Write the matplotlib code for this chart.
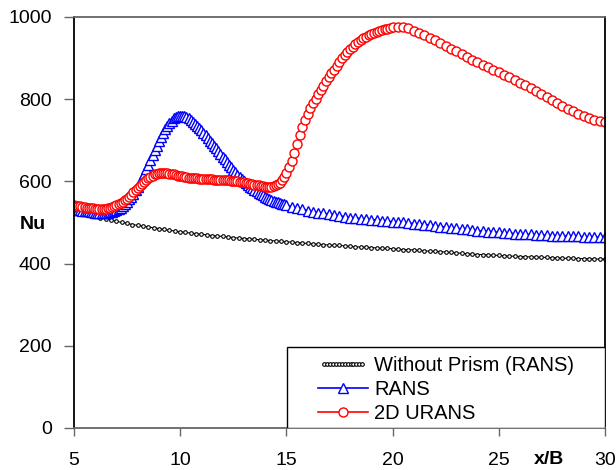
import numpy as np
import matplotlib
matplotlib.use("Agg")
import matplotlib.pyplot as plt
from matplotlib.legend_handler import HandlerLine2D
from matplotlib.patches import Rectangle

plt.rcParams["font.family"] = ["Liberation Sans", "DejaVu Sans"]

# =====================================
# DATA
# =====================================

# grid is finer near the prism, coarser downstream
x_black = np.arange(5.0, 30.01, 0.25)
x_blue = np.concatenate([np.linspace(5, 15, 101), np.linspace(15.25, 30, 60)])
x_red = np.concatenate([np.linspace(5, 15, 101), np.linspace(15.125, 20, 40),
                        np.linspace(20.25, 30, 40)])

nu_no_prism = [
    527, 524, 521, 518, 515, 512, 509, 506, 503, 500,
    498, 495, 493, 491, 489, 487, 485, 483, 481, 479,
    477, 476, 474, 473, 471, 470, 468, 467, 466, 465,
    463, 462, 461, 460, 459, 458, 457, 456, 455, 454,
    453, 452, 451, 450, 449, 448, 447, 446, 445, 444,
    444, 443, 442, 441, 440, 440, 439, 438, 437, 437,
    436, 435, 434, 434, 433, 432, 431, 430, 430, 429,
    428, 427, 426, 425, 424, 423, 422, 422, 421, 420,
    420, 419, 418, 418, 417, 417, 416, 416, 415, 415,
    414, 414, 413, 413, 413, 412, 412, 412, 411, 411,
    411,
]

nu_rans = [
    # 5.0 - 15.0, step 0.1
    532, 531, 530, 530, 529, 528, 527, 527, 526, 525,
    524, 524, 523, 523, 523, 523, 524, 525, 526, 528,
    530, 533, 536, 540, 545, 550, 556, 563, 570, 578,
    587, 597, 607, 618, 629, 640, 652, 664, 676, 687,
    698, 708, 718, 727, 735, 742, 748, 753, 757, 759,
    760, 760, 759, 756, 753, 750, 745, 740, 735, 730,
    724, 718, 712, 706, 699, 693, 686, 680, 673, 667,
    660, 654, 647, 641, 634, 628, 622, 616, 610, 605,
    600, 595, 591, 587, 583, 579, 576, 572, 569, 566,
    563, 560, 558, 555, 553, 551, 549, 547, 545, 544,
    542,
    # 15.25 - 30.0, step 0.25
    538, 535, 532, 529, 526, 524, 522, 520, 518, 516,
    514, 512, 511, 509, 508, 507, 506, 504, 503, 502,
    501, 500, 499, 497, 496, 495, 494, 492, 490, 489,
    487, 486, 484, 483, 481, 480, 479, 478, 477, 476,
    475, 474, 473, 472, 471, 471, 470, 469, 469, 468,
    468, 467, 467, 466, 466, 465, 465, 465, 464, 464,
]

nu_urans = [
    # 5.0 - 15.0, step 0.1
    542, 541, 540, 539, 538, 537, 536, 535, 534, 534,
    533, 532, 532, 532, 532, 533, 534, 535, 537, 539,
    542, 544, 547, 550, 554, 558, 563, 568, 573, 578,
    584, 589, 594, 599, 604, 608, 611, 614, 617, 619,
    620, 621, 621, 621, 620, 619, 618, 617, 615, 614,
    613, 612, 611, 610, 609, 609, 608, 607, 607, 606,
    606, 606, 605, 605, 605, 605, 604, 604, 604, 604,
    604, 603, 603, 603, 602, 602, 601, 600, 599, 598,
    598, 597, 595, 594, 593, 592, 591, 590, 589, 588,
    587, 587, 587, 587, 588, 590, 593, 597, 603, 611,
    620,
    # 15.125 - 20.0, step 0.125
    634, 650, 670, 690, 712, 732, 750, 765,
    778, 790, 801, 812, 823, 833, 843, 853,
    863, 872, 881, 890, 899, 907, 914, 921,
    928, 934, 939, 944, 948, 952, 956, 959,
    962, 964, 966, 968, 970, 971, 973, 975,
    # 20.25 - 30.0, step 0.25
    976, 975, 972, 967, 961, 955, 949, 943, 937, 930,
    923, 916, 909, 902, 896, 890, 884, 878, 872, 866,
    860, 853, 847, 840, 834, 826, 819, 812, 805, 798,
    791, 784, 777, 771, 765, 759, 754, 750, 746, 744,
]

labels = ["Without Prism (RANS)", "RANS", "2D URANS"]

# =====================================
# FIGURE
# =====================================

fig = plt.figure(figsize=(6.16, 4.70), dpi=100)
ax = fig.add_axes([0.120, 0.0894, 0.862, 0.8745])

l_black, = ax.plot(x_black, nu_no_prism, color="black", linewidth=0.8,
                   marker="o", markersize=2.6, markerfacecolor="white",
                   markeredgewidth=0.8, label=labels[0])
l_blue, = ax.plot(x_blue, nu_rans, color="blue", linewidth=1.2,
                  marker="^", markersize=7.5, markerfacecolor="white",
                  markeredgewidth=1.0, label=labels[1])
l_red, = ax.plot(x_red, nu_urans, color="red", linewidth=1.2,
                 marker="o", markersize=6.5, markerfacecolor="white",
                 markeredgewidth=1.0, label=labels[2])

ax.set_xlim(5, 30)
ax.set_ylim(0, 1000)
ax.set_xticks([5, 10, 15, 20, 25, 30])
ax.set_yticks([0, 200, 400, 600, 800, 1000])

for s in ["left", "right"]:
    ax.spines[s].set_color("black")
    ax.spines[s].set_linewidth(1.3)
for s in ["top", "bottom"]:
    ax.spines[s].set_color("#666666")
    ax.spines[s].set_linewidth(1.3)

ax.tick_params(axis="x", direction="out", length=6, width=1, color="#666666",
               labelsize=14, pad=11)
ax.tick_params(axis="y", direction="out", length=7, width=1, color="#666666",
               labelsize=14, pad=9)

ax.set_xlabel("x/B", fontsize=14, fontweight="bold")
ax.xaxis.set_label_coords(0.895, -0.056)
ax.set_ylabel("Nu", fontsize=14, fontweight="bold", rotation=0)
ax.yaxis.label.set_va("center")
ax.yaxis.set_label_coords(-0.077, 0.494)

# legend box sits on the x axis, right half
x0 = (287 - 74) / 531
ax.add_patch(Rectangle((x0, 0), 1 - x0, 0.197, transform=ax.transAxes,
                       facecolor="white", edgecolor="black", linewidth=1.0,
                       zorder=4))
leg = ax.legend(handles=[l_black, l_blue, l_red], loc="upper left",
                bbox_to_anchor=(x0 + 0.032, 0.21), frameon=False,
                fontsize=14.5, handlelength=2.5, handletextpad=0.3,
                labelspacing=0.25, borderpad=0.2, numpoints=1,
                handler_map={l_black: HandlerLine2D(numpoints=14)})
leg.set_zorder(5)

fig.savefig("out.png", dpi=100)
